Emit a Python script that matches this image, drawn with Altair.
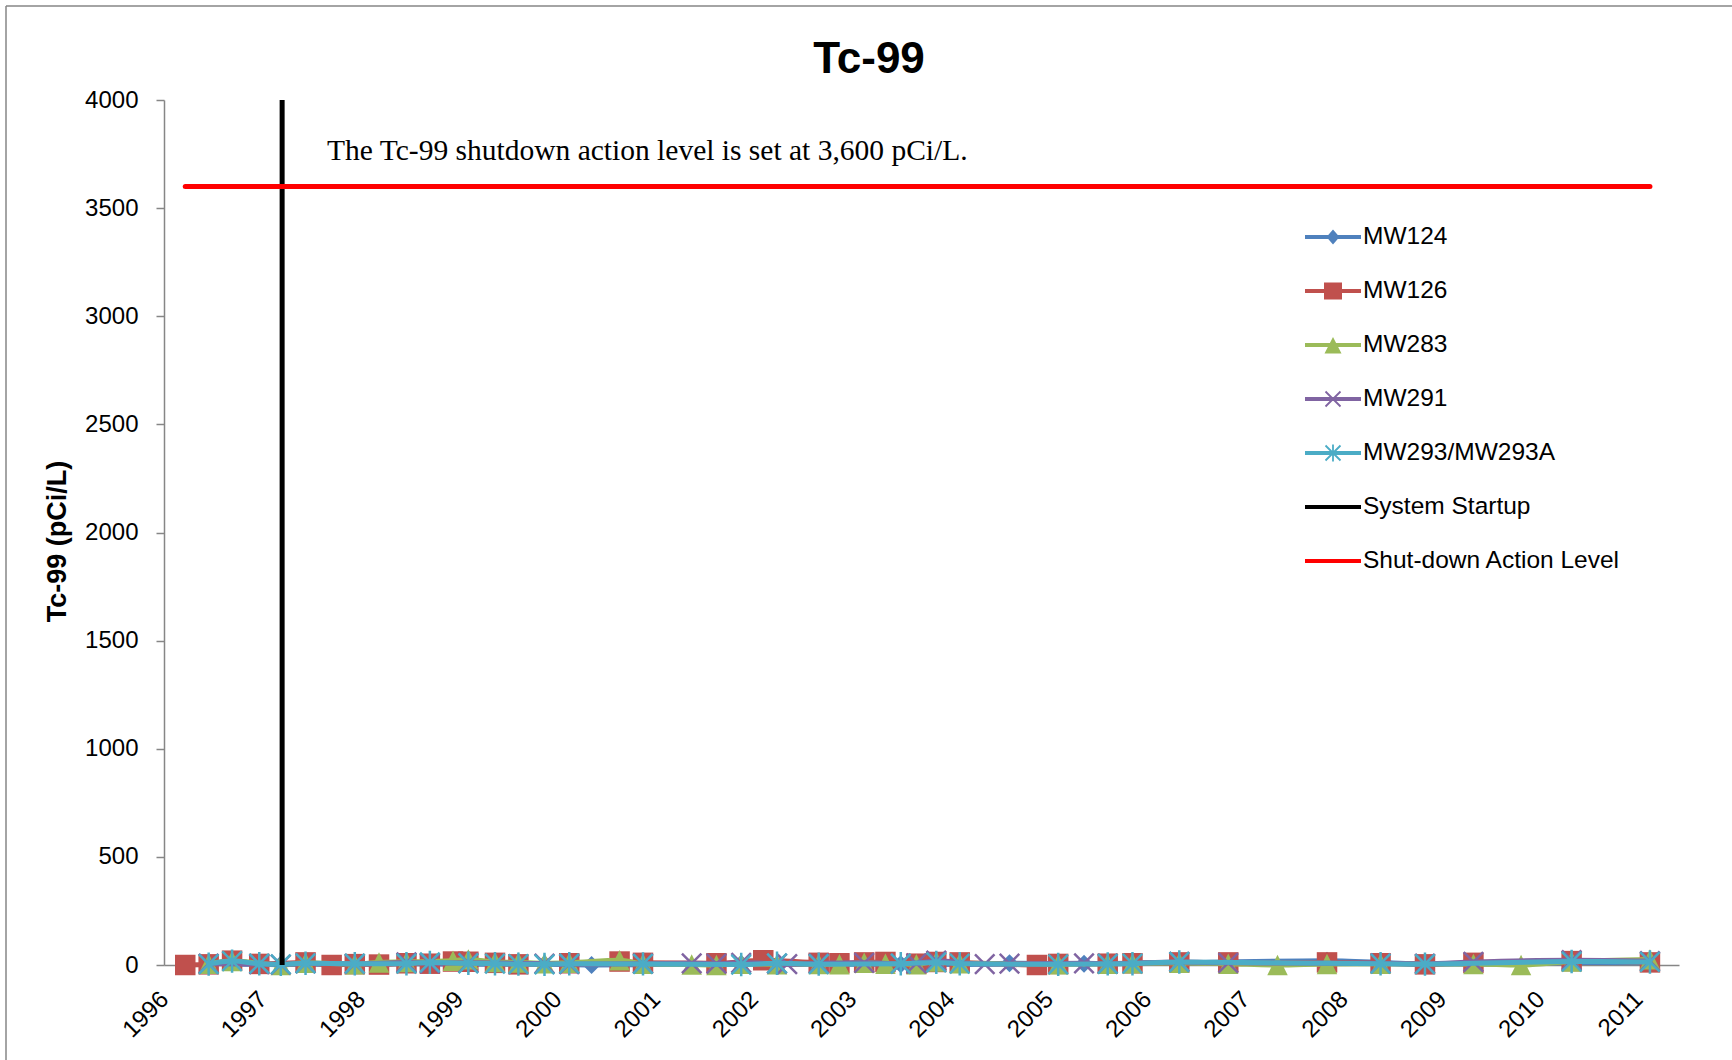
import math
import altair as alt
import pandas as pd

# ---------------- data ----------------
SERIES = ["MW124", "MW126", "MW283", "MW291", "MW293/MW293A",
          "System Startup", "Shut-down Action Level"]
COLORS = ["#4F81BD", "#C0504D", "#9BBB59", "#8064A2", "#4BACC6",
          "#000000", "#FF0000"]
YEARS = list(range(1996, 2012))
Y_TICKS = [0, 500, 1000, 1500, 2000, 2500, 3000, 3500, 4000]

mw124_dates = ["1996-06-15", "1997-03-10", "1997-12-10", "1998-06-20", "1999-02-05",
               "1999-11-15", "2000-05-08", "2000-11-15", "2001-11-15", "2002-08-30",
               "2003-07-01", "2004-02-05", "2004-08-08", "2005-05-12", "2006-05-01",
               "2007-11-01", "2008-10-30", "2009-04-28", "2010-04-28", "2011-02-13"]
mw124_vals = [8, 2, 5, 6, 3, 4, 0, 2, 6, 3, 4, 2, 8, 6, 10, 20, 5, 4, 12, 10]

mw126_dates = ["1996-03-20", "1996-06-15", "1996-09-10", "1996-12-20", "1997-06-10",
               "1997-09-15", "1997-12-10", "1998-03-10", "1998-06-20", "1998-09-15",
               "1998-12-10", "1999-02-05", "1999-05-15", "1999-08-10", "2000-02-15",
               "2000-08-20", "2000-11-15", "2001-08-15", "2002-02-05", "2002-08-30",
               "2002-11-15", "2003-02-15", "2003-05-05", "2003-08-28", "2003-11-10",
               "2004-02-05", "2004-11-18", "2005-02-05", "2005-08-08", "2005-11-08",
               "2006-05-01", "2006-10-30", "2007-11-01", "2008-05-18", "2008-10-30",
               "2009-04-28", "2010-04-28", "2011-02-13"]
mw126_vals = [0, 3, 20, 5, 12, 0, 4, 2, 8, 6, 16, 15, 10, 3, 8, 16, 10, 8, 22, 10,
              8, 12, 14, 6, 14, 12, 0, 5, 6, 8, 12, 12, 12, 8, 3, 10, 18, 12]

mw283_dates = ["1996-06-15", "1996-09-10", "1997-03-10", "1997-06-10", "1997-12-10",
               "1998-03-10", "1998-06-20", "1998-12-10", "1999-02-05", "1999-05-15",
               "1999-08-10", "1999-11-15", "2000-02-15", "2000-08-20", "2000-11-15",
               "2001-05-15", "2001-08-15", "2001-11-15", "2002-03-28", "2002-08-30",
               "2002-11-15", "2003-02-15", "2003-05-05", "2003-08-28", "2003-11-10",
               "2004-02-05", "2005-02-05", "2005-08-08", "2005-11-08", "2006-05-01",
               "2006-10-30", "2007-05-01", "2007-11-01", "2008-05-18", "2009-04-28",
               "2009-10-22", "2010-04-28", "2011-02-13"]
mw283_vals = [6, 18, 0, 10, 4, 12, 14, 20, 26, 14, 12, 8, 10, 22, 6, 2, 0, 6, 4, 5,
              3, 10, 6, 4, 16, 8, 4, 6, 8, 10, 6, 0, 5, 6, 5, 0, 16, 26]

mw291_dates = ["1996-06-15", "1996-12-20", "1997-03-10", "1997-06-10", "1997-12-10",
               "1998-06-20", "1998-09-15", "1999-02-05", "1999-11-15", "2000-02-15",
               "2000-11-15", "2001-05-15", "2001-08-15", "2001-11-15", "2002-03-28",
               "2002-05-05", "2002-08-30", "2003-02-15", "2003-07-01", "2003-08-28",
               "2003-11-10", "2004-05-08", "2004-08-08", "2005-05-12", "2005-08-08",
               "2006-05-01", "2006-10-30", "2008-05-18", "2008-10-30", "2009-04-28",
               "2010-04-28", "2011-02-13"]
mw291_vals = [6, 4, 2, 8, 5, 12, 8, 10, 6, 4, 6, 8, 6, 10, 6, 4, 8, 10, 6, 8,
              20, 4, 6, 8, 6, 14, 10, 8, 6, 14, 22, 18]

mw293_dates = ["1996-06-15", "1996-09-10", "1996-12-20", "1997-03-10", "1997-06-10",
               "1997-12-10", "1998-06-20", "1998-09-15", "1999-02-05", "1999-05-15",
               "1999-08-10", "1999-11-15", "2000-02-15", "2000-11-15", "2001-11-15",
               "2002-03-28", "2002-08-30", "2003-07-01", "2003-11-10", "2004-02-05",
               "2005-02-05", "2005-08-08", "2005-11-08", "2006-05-01", "2008-05-18",
               "2008-10-30", "2010-04-28", "2011-02-13"]
mw293_vals = [4, 18, 6, 3, 8, 6, 6, 12, 8, 6, 4, 3, 6, 5, 2, 8, 4, 6, 12, 6,
              3, 5, 6, 14, 6, 4, 16, 14]

startup_dates = ["1997-03-15", "1997-03-15"]
startup_vals = [0, 4000]

action_dates = ["1996-03-20", "2011-02-13"]
action_vals = [3600, 3600]

chart_title = "Tc-99"
note_text = ["The Tc-99 shutdown action level is set at 3,600 pCi/L."]
note_dates = ["1997-08-29"]
note_vals = [3723]

# ---------------- styling ----------------
W, H = 1515, 865
PAD = {"left": 164, "top": 100, "right": 53, "bottom": 95}
SANS = "'Liberation Sans', Arial, sans-serif"
SERIF = "'Liberation Serif', 'Times New Roman', serif"
GREY = "#868686"


def utc(y, m, d):
    return alt.DateTime(year=y, month=m, date=d, utc=True)


x_enc = alt.X(
    "date:T",
    scale=alt.Scale(type="utc", domain=[utc(1996, 1, 1), utc(2011, 6, 1)]),
    axis=alt.Axis(
        values=[utc(y, 1, 1) for y in YEARS], format="%Y", title=None,
        labelAngle=-45, labelAlign="right", labelBaseline="top",
        labelPadding=22, labelOffset=-8, ticks=False, labelFlush=False,
        labelOverlap=False, grid=False,
    ),
)
y_enc = alt.Y(
    "value:Q",
    scale=alt.Scale(domain=[0, 4000], nice=False),
    axis=alt.Axis(
        values=Y_TICKS, format="d", title="Tc-99 (pCi/L)", tickSize=8, labelPadding=18,
        grid=False, titleFont=SANS, titleFontSize=27, titleFontWeight="bold",
        titleX=-107, titleY=441, titleAngle=-90, titleAlign="center",
        titleBaseline="middle",
    ),
)


def frame(dates, values):
    return pd.DataFrame({"date": dates, "value": values})


# marker glyphs in symbol units ([-1, 1] spans sqrt(size) pixels)
X_PATH = "M-1,-1L1,1M-1,1L1,-1"
STAR_PATH = "M-1,-1L1,1M-1,1L1,-1M0,-1.2L0,1.2"
TRI_PATH = "M0,-1L1,1L-1,1Z"

markers = [
    dict(shape="diamond", size=324, filled=True),
    dict(shape="square", size=420, filled=True),
    dict(shape=TRI_PATH, size=420, filled=True),
    dict(shape=X_PATH, size=380, filled=False, strokeWidth=2.5),
    dict(shape=STAR_PATH, size=380, filled=False, strokeWidth=2.5),
]
well_data = [
    (mw124_dates, mw124_vals), (mw126_dates, mw126_vals), (mw283_dates, mw283_vals),
    (mw291_dates, mw291_vals), (mw293_dates, mw293_vals),
]

layers = []
for (dates, vals), mk, color in zip(well_data, markers, COLORS):
    base = alt.Chart(frame(dates, vals))
    layers.append(base.mark_line(color=color, strokeWidth=5, interpolate="monotone",
                                 strokeCap="round", strokeJoin="round")
                  .encode(x=x_enc, y=y_enc))
    layers.append(base.mark_point(color=color, opacity=1, **mk).encode(x=x_enc, y=y_enc))

layers.append(alt.Chart(frame(startup_dates, startup_vals))
              .mark_line(color=COLORS[5], strokeWidth=5)
              .encode(x=x_enc, y=y_enc))
layers.append(alt.Chart(frame(action_dates, action_vals))
              .mark_line(color=COLORS[6], strokeWidth=5, strokeCap="round")
              .encode(x=x_enc, y=y_enc))

note_df = pd.DataFrame({"date": note_dates, "value": note_vals, "text": note_text})
layers.append(alt.Chart(note_df).mark_text(
    align="left", baseline="alphabetic", font=SERIF, fontSize=29.5, color="black"
).encode(x=x_enc, y=y_enc, text="text:N"))

# chart title, centred over the whole chart area
edge = alt.Chart(pd.DataFrame({"label": [chart_title]}))
layers.append(edge.mark_text(
    align="center", baseline="alphabetic", font=SANS, fontSize=44, fontWeight="bold",
    color="black",
).encode(x=alt.value(705), y=alt.value(-27), text="label:N"))

# chart-area frame (left and top edges)
layers.append(edge.mark_rule(color=GREY, strokeWidth=1.5).encode(
    x=alt.value(-158), y=alt.value(-94), y2=alt.value(H + PAD["bottom"])))
layers.append(edge.mark_rule(color=GREY, strokeWidth=1.5).encode(
    x=alt.value(-158), x2=alt.value(W + PAD["right"]), y=alt.value(-94)))


# legend glyphs: line segment plus marker, drawn as filled polygons
def poly(pts):
    n = len(pts)
    area = sum(pts[i][0] * pts[(i + 1) % n][1] - pts[(i + 1) % n][0] * pts[i][1]
               for i in range(n))
    if area < 0:
        pts = pts[::-1]
    return "M" + "L".join(f"{x:.3f},{y:.3f}" for x, y in pts) + "Z"


def bar(x1, y1, x2, y2, hw):
    dx, dy = x2 - x1, y2 - y1
    ln = math.hypot(dx, dy)
    nx, ny = -dy / ln * hw, dx / ln * hw
    return poly([(x1 + nx, y1 + ny), (x2 + nx, y2 + ny), (x2 - nx, y2 - ny), (x1 - nx, y1 - ny)])


SEG = bar(-1.4, 0, 1.4, 0, 0.1)
XG = bar(-0.375, -0.375, 0.375, 0.375, 0.045) + bar(-0.375, 0.375, 0.375, -0.375, 0.045)
legend_paths = [
    SEG + poly([(0, -0.375), (0.325, 0), (0, 0.375), (-0.325, 0)]),
    SEG + poly([(-0.45, -0.425), (0.45, -0.425), (0.45, 0.425), (-0.45, 0.425)]),
    SEG + poly([(0, -0.4), (0.425, 0.425), (-0.425, 0.425)]),
    SEG + XG,
    SEG + XG + bar(0, -0.42, 0, 0.42, 0.045),
    SEG,
    SEG,
]

legend = alt.Legend(
    title=None, orient="none", legendX=1149, legendY=117, padding=0,
    labelFont=SANS, labelFontSize=24.5, labelColor="black", labelLimit=500,
    labelOffset=10, rowPadding=22, symbolSize=1600, symbolStrokeWidth=0,
    symbolOpacity=1,
)
legend_df = pd.DataFrame({"series": SERIES})
layers.append(alt.Chart(legend_df).mark_point(filled=True, opacity=0, size=1600).encode(
    color=alt.Color("series:N", sort=SERIES,
                    scale=alt.Scale(domain=SERIES, range=COLORS), legend=legend),
    shape=alt.Shape("series:N", sort=SERIES,
                    scale=alt.Scale(domain=SERIES, range=legend_paths), legend=legend),
))

chart = alt.layer(*layers).properties(
    width=W, height=H, autosize="none", padding=PAD, background="white",
).configure_view(strokeWidth=0).configure_axis(
    domainColor=GREY, domainWidth=1.5, tickColor=GREY, tickWidth=1.5,
    labelFont=SANS, labelFontSize=24, labelColor="black", titleColor="black",
)

chart.save("out.html", embed_options={"renderer": "svg", "actions": False})
